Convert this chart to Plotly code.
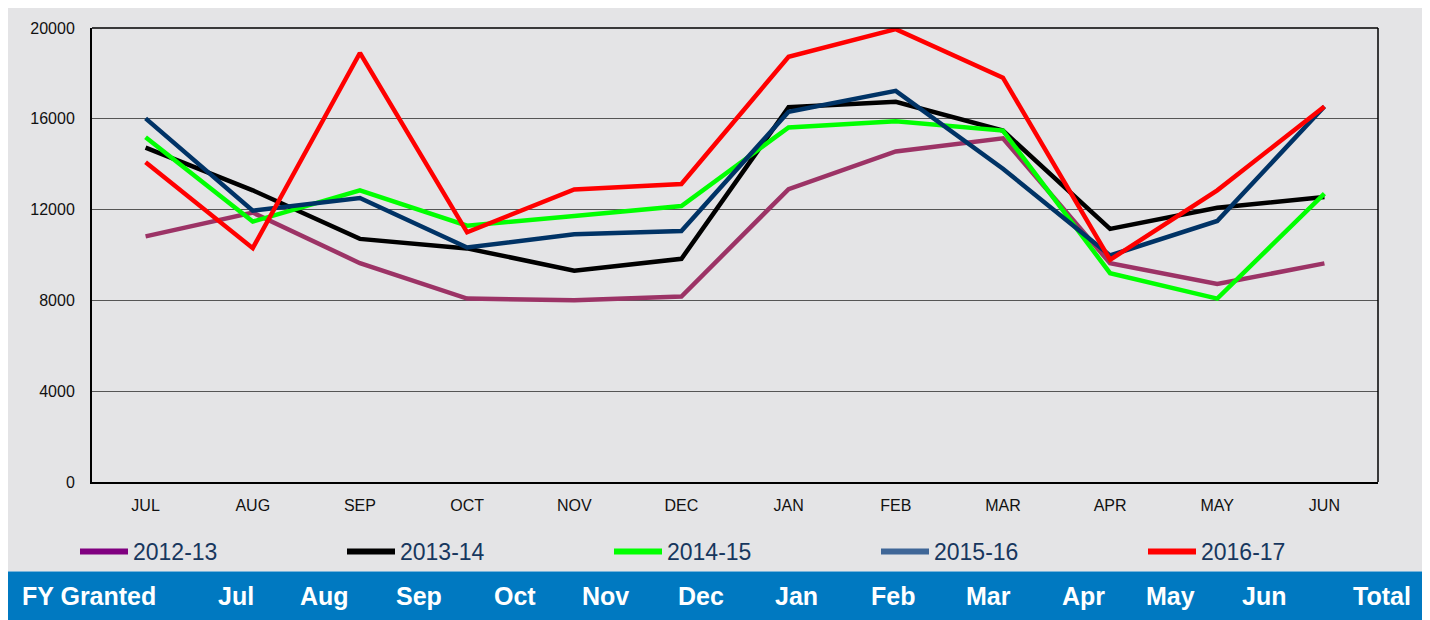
import plotly.graph_objects as go

months = ["JUL", "AUG", "SEP", "OCT", "NOV", "DEC", "JAN", "FEB", "MAR", "APR", "MAY", "JUN"]
series_names = ["2012-13", "2013-14", "2014-15", "2015-16", "2016-17"]

fy_2012_13 = [10820, 11870, 9640, 8080, 8010, 8170, 12900, 14560, 15140, 9640, 8720, 9630]
fy_2013_14 = [14730, 12850, 10710, 10290, 9310, 9830, 16510, 16750, 15480, 11150, 12080, 12560]
fy_2014_15 = [15190, 11470, 12850, 11290, 11720, 12160, 15620, 15890, 15480, 9200, 8080, 12700]
fy_2015_16 = [16020, 11950, 12510, 10330, 10910, 11060, 16310, 17230, 13800, 9980, 11500, 16540]
fy_2016_17 = [14090, 10300, 18900, 11000, 12890, 13130, 18730, 19950, 17810, 9790, 12850, 16540]

header_labels = ["FY Granted", "Jul", "Aug", "Sep", "Oct", "Nov", "Dec", "Jan", "Feb", "Mar", "Apr", "May", "Jun", "Total"]
header_x_px = [89, 236, 324, 419, 515, 605, 701, 796, 893, 988, 1083, 1170, 1264, 1382]

y_ticks = [0, 4000, 8000, 12000, 16000, 20000]

line_colors = ["#9C3366", "#000000", "#00FF00", "#003366", "#FF0000"]
legend_colors = ["#800080", "#000000", "#00FF00", "#3F6697", "#FF0000"]
all_series = [fy_2012_13, fy_2013_14, fy_2014_15, fy_2015_16, fy_2016_17]

# page has an 8px body margin; positions below are page pixels
OFF = 8
W, H = 1430 - OFF, 620 - OFF
L, R, T, B = 92 - OFF, 1378 - OFF, 25 - OFF, 482 - OFF

fig = go.Figure()
for name, vals, col in zip(series_names, all_series, line_colors):
    fig.add_trace(go.Scatter(x=months, y=vals, mode="lines", name=name,
                             line=dict(color=col, width=4.5), showlegend=False))
for name, col in zip(series_names, legend_colors):
    fig.add_trace(go.Scatter(x=[None], y=[None], mode="lines", name=name,
                             line=dict(color=col, width=6), showlegend=True))


def px_x(p):
    return (p - OFF - L) / (R - L)


def px_y(p):
    return (B - (p - OFF)) / (B - T)


shapes = [
    dict(type="rect", xref="paper", yref="paper", x0=px_x(8), x1=px_x(1427), y0=px_y(572), y1=px_y(0),
         fillcolor="#E4E4E6", line=dict(width=0), layer="below"),
    dict(type="rect", xref="paper", yref="paper", x0=px_x(8), x1=px_x(1427), y0=px_y(622), y1=px_y(572),
         fillcolor="#0079C1", line=dict(width=0), layer="below"),
    dict(type="line", xref="paper", yref="paper", x0=0, x1=1, y0=1, y1=1, line=dict(color="#000", width=1.5)),
    dict(type="line", xref="paper", yref="paper", x0=1, x1=1, y0=0, y1=1, line=dict(color="#000", width=1.5)),
]

annotations = []
for lab, xp in zip(header_labels, header_x_px):
    annotations.append(dict(x=px_x(xp), y=px_y(597), xref="paper", yref="paper", text=lab,
                            showarrow=False, xanchor="center", yanchor="middle",
                            font=dict(family="Liberation Sans, Arial", size=25, color="white", weight="bold")))

fig.update_layout(
    width=W, height=H,
    margin=dict(l=L, r=W - R, t=T, b=H - B),
    paper_bgcolor="white",
    plot_bgcolor="#E4E4E6",
    shapes=shapes,
    annotations=annotations,
    showlegend=True,
    legend=dict(orientation="h", x=px_x(75), y=px_y(552), xanchor="left", yanchor="middle",
                bgcolor="rgba(0,0,0,0)", entrywidth=204, entrywidthmode="pixels",
                font=dict(family="Liberation Sans, Arial", size=23, color="#17375E"),
                itemwidth=48),
    xaxis=dict(type="category", range=[-0.5, 11.5], showgrid=False, showline=True,
               linecolor="#000", linewidth=2, ticks="", zeroline=False,
               tickfont=dict(family="Liberation Sans, Arial", size=16, color="#111"),
               ticklabelstandoff=8),
    yaxis=dict(range=[0, 20000], tickvals=y_ticks, ticktext=[str(v) for v in y_ticks],
               showgrid=True, gridcolor="#555", gridwidth=1, showline=True, linecolor="#000",
               linewidth=2, ticks="", zeroline=False,
               tickfont=dict(family="Liberation Sans, Arial", size=16, color="#111"),
               ticklabelstandoff=12),
)

fig.write_html("out.html")
